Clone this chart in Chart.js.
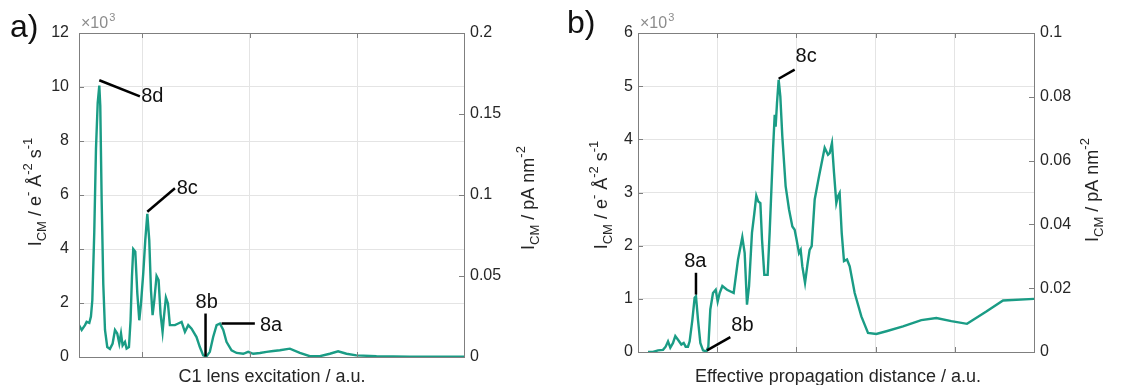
<!DOCTYPE html>
<html>
<head>
<meta charset="utf-8">
<script src="https://cdn.jsdelivr.net/npm/chart.js@4"></script>
<style>
  html, body { margin: 0; padding: 0; background: #fff; }
  #wrap { position: relative; width: 1122px; height: 385px; }
  .panel { position: absolute; top: 0; width: 561px; height: 385px; }
</style>
</head>
<body>
<div id="wrap">
  <div class="panel" style="left:0"><canvas id="chartA"></canvas></div>
  <div class="panel" style="left:561px"><canvas id="chartB"></canvas></div>
</div>
<script>
// panel a) : C1 lens excitation (a.u.) vs I_CM (x10^3 e- A^-2 s^-1)
var xA = [0.411,0.436,0.467,0.482,0.507,0.522,0.535,0.553,0.569,0.585,0.600,0.609,0.622,0.637,0.653,0.674,0.699,0.724,0.746,0.767,
  0.786,0.802,0.817,0.839,0.854,0.876,0.891,0.904,0.916,0.935,0.954,0.972,0.988,1.009,1.028,1.047,1.065,1.081,1.096,1.112,
  1.133,1.152,1.170,1.189,1.202,1.220,1.239,1.257,1.304,1.335,1.366,1.397,1.428,1.459,1.505,1.536,1.567,1.598,1.629,1.660,
  1.692,1.723,1.754,1.784,1.831,1.878,1.940,1.986,2.033,2.095,2.157,2.219,2.281,2.374,2.467,2.560,2.653,2.746,2.823,2.901,
  2.994,3.180,3.490,3.995];
var yA = [1.18,1.0,1.18,1.3,1.26,1.5,2.1,4.6,7.7,9.4,10.05,9.3,5.8,2.7,1.0,0.37,0.3,0.5,1.0,0.87,
  0.5,0.87,0.43,0.56,0.31,0.37,1.36,2.97,4.0,3.9,2.35,1.36,1.98,3.1,4.33,5.3,4.33,2.47,1.55,2.1,
  3.0,2.85,1.6,0.93,1.5,2.2,1.98,1.18,1.18,1.24,1.3,0.93,1.18,1.05,0.74,0.37,0.06,0.02,0.19,0.74,
  1.18,1.24,1.0,0.56,0.25,0.15,0.12,0.19,0.12,0.15,0.19,0.22,0.25,0.31,0.15,0.03,0.03,0.12,0.21,0.12,
  0.06,0.03,0.01,0.01];
var xGridA = [1, 2, 3];
var yTicksA = [0, 2, 4, 6, 8, 10, 12];
var yRTicksA = [0, 0.05, 0.1, 0.15, 0.2];

// panel b) : effective propagation distance (a.u.) vs I_CM
var xB = [0.126,0.189,0.253,0.316,0.349,0.379,0.408,0.442,0.471,0.505,0.547,0.577,0.602,0.631,0.652,0.686,0.715,0.732,0.758,0.787,
  0.821,0.863,0.888,0.913,0.947,0.981,1.006,1.031,1.065,1.124,1.208,1.263,1.317,1.347,1.376,1.402,1.439,1.469,1.494,1.519,
  1.545,1.566,1.595,1.637,1.662,1.705,1.726,1.738,1.755,1.776,1.797,1.822,1.864,1.907,1.949,1.978,1.999,2.033,2.054,2.075,
  2.109,2.142,2.167,2.193,2.231,2.285,2.357,2.399,2.420,2.449,2.475,2.504,2.525,2.546,2.572,2.601,2.639,2.673,2.736,2.820,
  2.904,3.009,3.136,3.346,3.577,3.767,3.956,4.154,4.398,4.609,5.0];
var yB = [0,0,0.03,0.04,0.1,0.2,0.08,0.17,0.3,0.23,0.14,0.17,0.1,0.1,0.2,0.6,1.02,1.05,0.6,0.17,
  0.03,0.01,0.1,0.8,1.11,1.17,0.95,1.11,1.24,1.17,1.11,1.74,2.16,1.86,0.89,1.24,2.24,2.61,2.94,2.83,
  2.8,2.11,1.45,1.45,2.24,3.81,4.46,4.24,4.68,5.12,4.81,4.06,3.12,2.68,2.36,2.30,2.14,1.86,1.92,1.61,
  1.30,1.67,1.92,1.99,2.87,3.30,3.84,3.71,3.74,3.93,3.37,2.8,2.93,2.99,2.24,1.71,1.74,1.61,1.11,0.67,
  0.36,0.34,0.39,0.48,0.6,0.64,0.58,0.53,0.76,0.97,1.0];
var xGridB = [1, 2, 3, 4];
var yTicksB = [0, 1, 2, 3, 4, 5, 6];
var yRTicksB = [0, 0.02, 0.04, 0.06, 0.08, 0.1];

// peak markers: [label, x1, y1, x2, y2, labelX, labelY, align]
var peaksA = [
  ['8d', 0.600, 10.25, 0.978, 9.65, 0.99, 9.65, 'left'],
  ['8c', 1.047, 5.38, 1.304, 6.25, 1.32, 6.25, 'left'],
  ['8b', 1.589, 1.61, 1.589, 0.02, 1.60, 2.02, 'center'],
  ['8a', 1.738, 1.24, 2.048, 1.24, 2.095, 1.15, 'left']
];
var peaksB = [
  ['8c', 1.776, 5.14, 1.978, 5.31, 1.99, 5.56, 'left'],
  ['8a', 0.732, 1.49, 0.732, 1.08, 0.724, 1.71, 'center'],
  ['8b', 0.871, 0.03, 1.166, 0.28, 1.178, 0.5, 'left']
];

var FONT = '"Liberation Sans", Arial, sans-serif';
var TEAL = '#1a9c85';
var BOX = '#7f7f7f';
var TXT = '#262626';

// text with sub/superscripts, parts = [[text, 0 normal | 1 sub | 2 sup], ...]
function richText(ctx, parts, x, y, size, rotate) {
  var small = Math.round(size * 0.72);
  ctx.save();
  ctx.translate(x, y);
  if (rotate) ctx.rotate(-Math.PI / 2);
  var w = 0;
  parts.forEach(function (p) {
    ctx.font = (p[1] ? small : size) + 'px ' + FONT;
    w += ctx.measureText(p[0]).width;
  });
  var cx = -w / 2;
  ctx.textAlign = 'left';
  ctx.textBaseline = 'middle';
  ctx.fillStyle = TXT;
  parts.forEach(function (p) {
    ctx.font = (p[1] ? small : size) + 'px ' + FONT;
    var dy = p[1] === 1 ? size * 0.38 : (p[1] === 2 ? -size * 0.42 : 0);
    ctx.fillText(p[0], cx, dy);
    cx += ctx.measureText(p[0]).width;
  });
  ctx.restore();
}

var titleE = [['I', 0], ['CM', 1], [' / e', 0], ['-', 2], [' \u00C5', 0], ['-2', 2], [' s', 0], ['-1', 2]];
var titleP = [['I', 0], ['CM', 1], [' / pA nm', 0], ['-2', 2]];

var decor = {
  id: 'decor',
  afterDraw: function (chart, args, o) {
    var ctx = chart.ctx, a = chart.chartArea;
    var sx = chart.scales.x, sy = chart.scales.y, sr = chart.scales.yR;
    ctx.save();
    // box
    ctx.strokeStyle = BOX;
    ctx.lineWidth = 1;
    ctx.strokeRect(Math.round(a.left) + 0.5, Math.round(a.top) + 0.5, Math.round(a.right - a.left), Math.round(a.bottom - a.top));
    // inward ticks
    ctx.beginPath();
    sy.ticks.forEach(function (t) {
      var p = Math.round(sy.getPixelForValue(t.value)) + 0.5;
      ctx.moveTo(a.left, p); ctx.lineTo(a.left + 5, p);
    });
    sr.ticks.forEach(function (t) {
      var p = Math.round(sr.getPixelForValue(t.value)) + 0.5;
      ctx.moveTo(a.right, p); ctx.lineTo(a.right - 5, p);
    });
    sx.ticks.forEach(function (t) {
      var p = Math.round(sx.getPixelForValue(t.value)) + 0.5;
      ctx.moveTo(p, a.bottom); ctx.lineTo(p, a.bottom - 5);
      ctx.moveTo(p, a.top); ctx.lineTo(p, a.top + 5);
    });
    ctx.stroke();

    // peak markers
    ctx.strokeStyle = '#000';
    ctx.lineWidth = 2.5;
    ctx.fillStyle = '#111';
    ctx.font = '20px ' + FONT;
    ctx.textBaseline = 'middle';
    o.peaks.forEach(function (k) {
      ctx.beginPath();
      ctx.moveTo(sx.getPixelForValue(k[1]), sy.getPixelForValue(k[2]));
      ctx.lineTo(sx.getPixelForValue(k[3]), sy.getPixelForValue(k[4]));
      ctx.stroke();
      ctx.textAlign = k[7];
      ctx.fillText(k[0], sx.getPixelForValue(k[5]), sy.getPixelForValue(k[6]));
    });

    // panel letter
    ctx.fillStyle = '#111';
    ctx.font = '32px ' + FONT;
    ctx.textAlign = 'left';
    ctx.textBaseline = 'alphabetic';
    ctx.fillText(o.letter, o.letterPos[0], o.letterPos[1]);

    // x10^3 exponent
    ctx.fillStyle = '#8c8c8c';
    ctx.font = '16px ' + FONT;
    ctx.fillText('\u00D710', a.left + 2, 28);
    var w = ctx.measureText('\u00D710').width;
    ctx.font = '11px ' + FONT;
    ctx.fillText('3', a.left + 2 + w + 1, 21);

    // axis titles
    richText(ctx, titleE, o.leftTitle[0], o.leftTitle[1], 18, true);
    richText(ctx, titleP, o.rightTitle[0], o.rightTitle[1], 18, true);
    richText(ctx, [[o.xTitle, 0]], o.xTitlePos[0], o.xTitlePos[1], 18, false);
    ctx.restore();
  }
};

function setTicks(list) {
  return function (s) { s.ticks = list.map(function (v) { return { value: v }; }); };
}

function makeChart(id, xs, ys, c) {
  var pts = xs.map(function (x, i) { return { x: x, y: ys[i] }; });
  return new Chart(document.getElementById(id), {
    type: 'line',
    data: { datasets: [{ data: pts, borderColor: TEAL, borderWidth: 2.4, pointRadius: 0, tension: 0, fill: false }] },
    options: {
      responsive: true,
      maintainAspectRatio: false,
      animation: false,
      events: [],
      layout: { padding: { top: 33, left: 0, right: 0, bottom: 0 } },
      plugins: {
        legend: { display: false },
        tooltip: { enabled: false },
        decor: c.decor
      },
      scales: {
        x: {
          type: 'linear', min: c.xMin, max: c.xMax,
          afterBuildTicks: setTicks(c.xGrid),
          afterFit: function (s) { s.height = c.bottom; },
          ticks: { display: false },
          grid: { color: '#e4e4e4', drawTicks: false },
          border: { display: false }
        },
        y: {
          position: 'left', min: 0, max: c.yMax,
          afterBuildTicks: setTicks(c.yTicks),
          afterFit: function (s) { s.width = c.left; },
          ticks: { color: TXT, font: { family: FONT, size: 16 }, padding: c.padL, callback: function (v) { return String(v); } },
          grid: { color: '#e4e4e4', drawTicks: false },
          border: { display: false }
        },
        yR: {
          position: 'right', min: 0, max: c.yRMax,
          afterBuildTicks: setTicks(c.yRTicks),
          afterFit: function (s) { s.width = c.right; },
          ticks: { color: TXT, font: { family: FONT, size: 16 }, padding: 6, callback: function (v) { return String(v); } },
          grid: { drawOnChartArea: false, drawTicks: false },
          border: { display: false }
        }
      }
    },
    plugins: [decor]
  });
}

makeChart('chartA', xA, yA, {
  xMin: 0.411, xMax: 3.995, xGrid: xGridA,
  yMax: 12, yTicks: yTicksA, yRMax: 0.2, yRTicks: yRTicksA,
  left: 79, right: 97, bottom: 28, padL: 10,
  decor: {
    peaks: peaksA, letter: 'a)', letterPos: [10, 37],
    leftTitle: [36, 192], rightTitle: [529, 198],
    xTitle: 'C1 lens excitation / a.u.', xTitlePos: [272, 377]
  }
});

makeChart('chartB', xB, yB, {
  xMin: 0, xMax: 5, xGrid: xGridB,
  yMax: 6, yTicks: yTicksB, yRMax: 0.1, yRTicks: yRTicksB,
  left: 77, right: 88, bottom: 33, padL: 5,
  decor: {
    peaks: peaksB, letter: 'b)', letterPos: [6, 33],
    leftTitle: [41, 195], rightTitle: [532, 190],
    xTitle: 'Effective propagation distance / a.u.', xTitlePos: [277, 377]
  }
});
</script>
</body>
</html>
